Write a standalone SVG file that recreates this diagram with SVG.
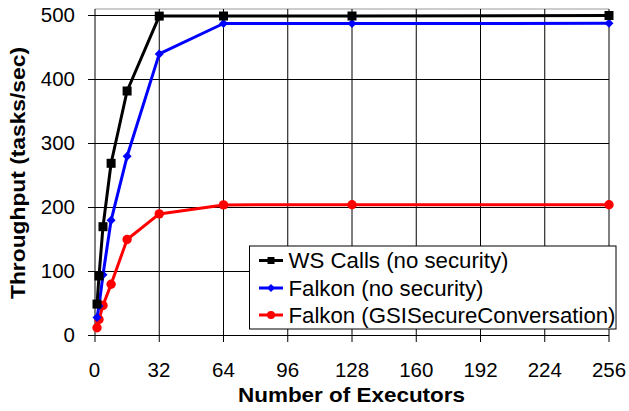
<svg xmlns="http://www.w3.org/2000/svg" width="629" height="411" viewBox="0 0 629 411">
<style>
.grid{stroke:#000;stroke-width:1;fill:none}
.frame{stroke:#999;stroke-width:1;fill:none}
.tick{font-family:"Liberation Sans",Arial,sans-serif;font-size:20.5px;fill:#000}
.title{font-family:"Liberation Sans",Arial,sans-serif;font-size:20.5px;font-weight:bold;fill:#000}
.leg{font-family:"Liberation Sans",Arial,sans-serif;font-size:22px;fill:#000}
.s-black{stroke:#000;stroke-width:3;fill:none;stroke-linejoin:round}
.s-blue{stroke:#0000ff;stroke-width:3;fill:none;stroke-linejoin:round}
.s-red{stroke:#ff0000;stroke-width:3;fill:none;stroke-linejoin:round}
</style>
<defs>
<rect id="sq" x="-4.5" y="-4.5" width="9" height="9" fill="#000"/>
<polygon id="dm" points="0,-4.5 4.5,0 0,4.5 -4.5,0" fill="#0000ff"/>
<circle id="ci" r="4.7" fill="#ff0000"/>
<rect id="sqs" x="-3.5" y="-3.5" width="7" height="7" fill="#000"/>
<polygon id="dms" points="0,-4 4,0 0,4 -4,0" fill="#0000ff"/>
<circle id="cis" r="4" fill="#ff0000"/>
</defs>
<rect width="629" height="411" fill="#fff"/>
<g id="grid">
<line class="frame" x1="95" y1="9" x2="609" y2="9"/>
<line class="grid" x1="88" y1="15.5" x2="609" y2="15.5"/>
<line class="grid" x1="88" y1="79.5" x2="609" y2="79.5"/>
<line class="grid" x1="88" y1="143.5" x2="609" y2="143.5"/>
<line class="grid" x1="88" y1="207.5" x2="609" y2="207.5"/>
<line class="grid" x1="88" y1="271.5" x2="609" y2="271.5"/>
<line class="grid" x1="88" y1="335.5" x2="609" y2="335.5"/>
<line class="grid" x1="95" y1="9" x2="95" y2="342"/>
<line class="grid" x1="159.25" y1="9" x2="159.25" y2="342"/>
<line class="grid" x1="223.5" y1="9" x2="223.5" y2="342"/>
<line class="grid" x1="287.75" y1="9" x2="287.75" y2="342"/>
<line class="grid" x1="352" y1="9" x2="352" y2="342"/>
<line class="grid" x1="416.25" y1="9" x2="416.25" y2="342"/>
<line class="grid" x1="480.5" y1="9" x2="480.5" y2="342"/>
<line class="grid" x1="544.75" y1="9" x2="544.75" y2="342"/>
<line class="grid" x1="609" y1="9" x2="609" y2="342"/>
</g>
<g id="y-labels" class="tick" text-anchor="end">
<text x="75" y="22">500</text>
<text x="75" y="86">400</text>
<text x="75" y="150">300</text>
<text x="75" y="214">200</text>
<text x="75" y="278">100</text>
<text x="75" y="342">0</text>
</g>
<g id="x-labels" class="tick" text-anchor="middle">
<text x="94.5" y="376.5">0</text>
<text x="159" y="376.5">32</text>
<text x="223.5" y="376.5">64</text>
<text x="287.75" y="376.5">96</text>
<text x="352" y="376.5">128</text>
<text x="416.25" y="376.5">160</text>
<text x="480.5" y="376.5">192</text>
<text x="544.75" y="376.5">224</text>
<text x="609" y="376.5">256</text>
</g>
<text id="x-title" class="title" x="351.5" y="401.5" text-anchor="middle" textLength="227" lengthAdjust="spacingAndGlyphs">Number of Executors</text>
<text id="y-title" class="title" transform="translate(25,173) rotate(-90)" text-anchor="middle" textLength="252" lengthAdjust="spacingAndGlyphs">Throughput (tasks/sec)</text>
<g id="connectors">
<polyline class="s-red" points="97,327.8 99,319.5 103,305.4 111.1,284.3 127.1,239.5 159.25,213.9 223.5,204.9 352,204.7 609,204.7"/>
<polyline class="s-blue" points="97,317.6 99,306.1 103,274.7 111.1,220.3 127.1,156.3 159.25,53.9 223.5,23.5 352,23.5 609,23.3"/>
<polyline class="s-black" points="97,304.1 99,276 103,226.7 111.1,163.3 127.1,91 159.25,16.1 223.5,16 352,16 609,15.5"/>
</g>
<g id="series-red">
<use href="#ci" x="97" y="327.8"/><use href="#ci" x="99" y="319.5"/><use href="#ci" x="103" y="305.4"/><use href="#ci" x="111.1" y="284.3"/><use href="#ci" x="127.1" y="239.5"/><use href="#ci" x="159.25" y="213.9"/><use href="#ci" x="223.5" y="204.9"/><use href="#ci" x="352" y="204.7"/><use href="#ci" x="609" y="204.7"/>
</g>
<g id="series-blue">
<use href="#dm" x="97" y="317.6"/><use href="#dm" x="99" y="306.1"/><use href="#dm" x="103" y="274.7"/><use href="#dm" x="111.1" y="220.3"/><use href="#dm" x="127.1" y="156.3"/><use href="#dm" x="159.25" y="53.9"/><use href="#dm" x="223.5" y="23.5"/><use href="#dm" x="352" y="23.5"/><use href="#dm" x="609" y="23.3"/>
</g>
<g id="series-black">
<use href="#sq" x="97" y="304.1"/><use href="#sq" x="99" y="276"/><use href="#sq" x="103" y="226.7"/><use href="#sq" x="111.1" y="163.3"/><use href="#sq" x="127.1" y="91"/><use href="#sq" x="159.25" y="16.1"/><use href="#sq" x="223.5" y="16"/><use href="#sq" x="352" y="16"/><use href="#sq" x="609" y="15.5"/>
</g>
<g id="legend">
<rect x="249.5" y="246" width="366.5" height="83" fill="#fff" stroke="#000" stroke-width="1"/>
<line x1="259" y1="260.5" x2="283" y2="260.5" stroke="#000" stroke-width="3"/>
<use href="#sqs" x="271" y="260.5"/>
<text class="leg" x="288.5" y="268.3" textLength="220" lengthAdjust="spacingAndGlyphs">WS Calls (no security)</text>
<line x1="259" y1="288" x2="283" y2="288" stroke="#0000ff" stroke-width="3"/>
<use href="#dms" x="271" y="288"/>
<text class="leg" x="288.5" y="296" textLength="195" lengthAdjust="spacingAndGlyphs">Falkon (no security)</text>
<line x1="259" y1="315" x2="283" y2="315" stroke="#ff0000" stroke-width="3"/>
<use href="#cis" x="271" y="315"/>
<text class="leg" x="288.5" y="323.3" textLength="327" lengthAdjust="spacingAndGlyphs">Falkon (GSISecureConversation)</text>
</g>
</svg>
